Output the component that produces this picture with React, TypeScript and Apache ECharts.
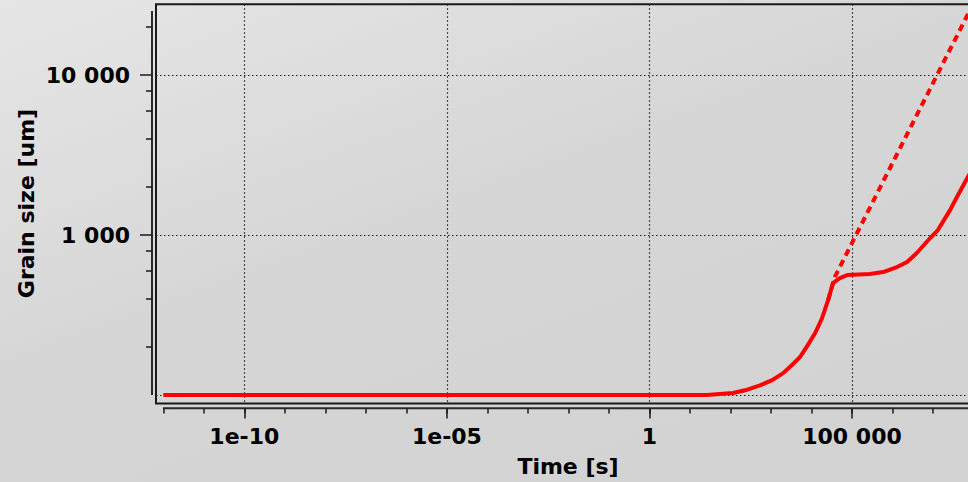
import React, { useEffect, useRef } from "react";
import * as echarts from "echarts";

// ---- data ----
const solidTime = [1e-12, 1, 26, 115, 229, 537, 1070, 2000, 3300, 5250, 8100, 12300, 18200, 25700, 33900, 50000, 75900, 275000, 589000, 1.29e6, 2.29e6, 3.98e6, 8.5e6, 1.32e7, 2.63e7, 3.89e7, 7.24e7, 2.0e8];
const solidSize = [100, 100, 100, 103, 107, 115, 124, 137, 154, 173, 205, 244, 302, 392, 501, 538, 562, 571, 587, 631, 678, 772, 958, 1075, 1432, 1728, 2305, 3600];
const dashedTime = [25700, 38000, 1e8];
const dashedSize = [392, 550, 28200];

const xMajorTicks = [1e-10, 1e-5, 1, 1e5];
const xTickLabels = ["1e-10", "1e-05", "1", "100 000"];
const xMinorTicks = [1e-12, 1e-11, 1e-10, 1e-9, 1e-8, 1e-7, 1e-6, 1e-5, 1e-4, 1e-3, 1e-2, 1e-1, 1, 10, 100, 1e3, 1e4, 1e5, 1e6, 1e7, 1e8];
const yMajorTicks = [1000, 10000];
const yTickLabels = ["1 000", "10 000"];
const yGridLines = [100, 1000, 10000];
const yMinorTicks = [200, 400, 600, 800, 2000, 4000, 6000, 8000, 20000];

const xRange = [6.6e-13, 4.5e8];
const yRange = [88.5, 27700];

const L = Math.log10;
const FONT = "DejaVu Sans";

function labelFor(ticks: number[], labels: string[]) {
  return (v: number) => {
    const i = ticks.findIndex((t) => Math.abs(L(t) - v) < 1e-6);
    return i >= 0 ? labels[i] : "";
  };
}

export default function App() {
  const ref = useRef<HTMLDivElement>(null);
  useEffect(() => {
    if (!ref.current) return;
    const chart = echarts.init(ref.current, null, { renderer: "svg" });
    const xMin = L(xRange[0]);
    const xMax = L(xRange[1]);
    const yMin = L(yRange[0]);
    const yMax = L(yRange[1]);
    const tickStyle = { color: "#1a1a1a", width: 1.5 };
    const labelStyle = { color: "#000", fontFamily: FONT, fontWeight: "bold" as const, fontSize: 22 };
    const dotted = { color: "#1e1e1e", width: 1.2, type: [1.5, 2.5] as number[] };
    const noLine = { show: false, onZero: false };

    chart.setOption({
      animation: false,
      grid: {
        left: 156,
        top: 4.3,
        width: 844,
        height: 399.2,
        show: true,
        borderColor: "#1a1a1a",
        borderWidth: 2,
        backgroundColor: "transparent",
      },
      xAxis: [
        {
          type: "value",
          position: "bottom",
          offset: 5,
          min: xMin,
          max: xMax,
          axisLine: noLine,
          axisTick: { show: true, length: 10, customValues: xMajorTicks.map(L), lineStyle: tickStyle },
          axisLabel: { show: true, margin: 17, customValues: xMajorTicks.map(L), formatter: labelFor(xMajorTicks, xTickLabels), ...labelStyle },
          splitLine: { show: true, lineStyle: dotted },
        },
        {
          type: "value",
          position: "bottom",
          offset: 5,
          min: xMin,
          max: xMax,
          axisLine: noLine,
          axisTick: { show: true, length: 5, customValues: xMinorTicks.map(L), lineStyle: tickStyle },
          axisLabel: { show: false },
          splitLine: { show: false },
        },
      ],
      yAxis: [
        {
          type: "value",
          position: "left",
          offset: 4,
          min: yMin,
          max: yMax,
          axisLine: noLine,
          axisTick: { show: false, customValues: yGridLines.map(L) },
          axisLabel: { show: true, margin: 22, customValues: yMajorTicks.map(L), formatter: labelFor(yMajorTicks, yTickLabels), ...labelStyle },
          splitLine: { show: true, lineStyle: dotted },
        },
        {
          type: "value",
          position: "left",
          offset: 4,
          min: yMin,
          max: yMax,
          axisLine: noLine,
          axisTick: { show: true, length: 12, customValues: yMajorTicks.map(L), lineStyle: tickStyle },
          axisLabel: { show: false },
          splitLine: { show: false },
        },
        {
          type: "value",
          position: "left",
          offset: 4,
          min: yMin,
          max: yMax,
          axisLine: noLine,
          axisTick: { show: true, length: 6, customValues: yMinorTicks.map(L), lineStyle: tickStyle },
          axisLabel: { show: false },
          splitLine: { show: false },
        },
      ],
      series: [
        {
          type: "line",
          xAxisIndex: 0,
          yAxisIndex: 0,
          showSymbol: false,
          symbol: "none",
          z: 3,
          lineStyle: { color: "#ff0000", width: 4 },
          data: solidTime.map((t, i) => [L(t), L(solidSize[i])]),
        },
        {
          type: "line",
          xAxisIndex: 0,
          yAxisIndex: 0,
          showSymbol: false,
          symbol: "none",
          z: 3,
          lineStyle: { color: "#ff0000", width: 4, type: [7, 5] },
          data: dashedTime.map((t, i) => [L(t), L(dashedSize[i])]),
        },
      ],
      graphic: [
        { type: "line", shape: { x1: 152, y1: 11, x2: 152, y2: 395 }, style: { stroke: "#2a2a2a", lineWidth: 2 } },
        { type: "line", shape: { x1: 163, y1: 408.3, x2: 1010, y2: 408.3 }, style: { stroke: "#2a2a2a", lineWidth: 2 } },
        {
          type: "text",
          x: 568,
          y: 466,
          style: { text: "Time [s]", fill: "#000", font: `bold 22px "${FONT}"`, textAlign: "center", textVerticalAlign: "middle" },
        },
        {
          type: "text",
          x: 26,
          y: 203.5,
          rotation: Math.PI / 2,
          style: { text: "Grain size [um]", fill: "#000", font: `bold 22px "${FONT}"`, textAlign: "center", textVerticalAlign: "middle" },
        },
      ],
    });
    return () => chart.dispose();
  }, []);

  return (
    <div
      style={{
        position: "fixed",
        left: 0,
        top: 0,
        width: 968,
        height: 482,
        overflow: "hidden",
        background: "linear-gradient(160deg, #e6e6e6 0%, #d6d6d6 45%, #d2d2d2 100%)",
      }}
    >
      <div ref={ref} style={{ position: "absolute", left: 0, top: 0, width: 1010, height: 482 }} />
    </div>
  );
}
